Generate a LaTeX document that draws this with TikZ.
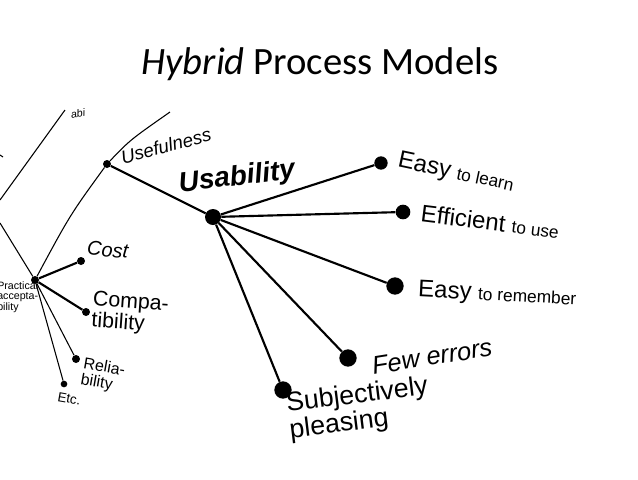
\documentclass[tikz,border=0pt]{standalone}
\usepackage{fontspec}
\setmainfont{Carlito}
\newfontfamily\arial{Liberation Sans}
\newcommand{\fs}[1]{\fontsize{#1}{#1}\selectfont}
\begin{document}
\begin{tikzpicture}[x=0.75pt,y=-0.75pt,
  dot/.style={circle,fill=black,inner sep=0pt,minimum size=#1},
  lbl/.style={inner sep=0pt},
  br/.style={line width=1.6pt},
  thin/.style={line width=0.8pt}]
\useasboundingbox (0,0) rectangle (638,479);
\node[font=\fs{29}] (title) at (320,64) {\textit{Hybrid} Process Models};
% dots
\node[dot=12pt] (u) at (213,217) {};
\node[dot=10pt] (l) at (381,163) {};
\node[dot=11pt] (e) at (403,212) {};
\node[dot=13pt] (r) at (395,286) {};
\node[dot=13pt] (f) at (348,358) {};
\node[dot=13pt] (s) at (283,390) {};
\node[dot=6pt] (uf) at (107,164) {};
\node[dot=6pt] (p) at (35,280) {};
\node[dot=6pt] (c) at (81,261) {};
\node[dot=6pt] (cp) at (86,312) {};
\node[dot=6pt] (rl) at (76,359) {};
\node[dot=5pt] (et) at (64,384) {};
\coordinate (t1) at (170,112);
\coordinate (t2) at (65,110);
\coordinate (l1) at (0,223);
\coordinate (l2) at (0,200);
% branches
\draw[br] (uf) -- (u);
\foreach \n in {l,e,r,f,s} \draw[br] (u) -- (\n);
\draw[thin] (p) .. controls (70,215) .. (uf) .. controls (130,140) .. (t1);
\draw[thin] (l1) -- (p);
\draw[thin] (l2) -- (t2);
\draw[br] (p) -- (c);
\draw[br] (p) -- (cp);
\draw[thin] (p) -- (rl);
\draw[thin] (p) -- (et);
\draw[thin] (0,155) -- (3,157);
% labels
\node[lbl,rotate=10,font=\arial\itshape\fs{8}] (tx0) at (78,114) {abi};
\node[lbl,rotate=15,font=\arial\itshape\fs{14}] (tuf) at (166,146) {Usefulness};
\node[lbl,rotate=7,font=\arial\bfseries\itshape\fs{21}] (tu) at (237,178) {Usability};
\node[lbl,rotate=-12,font=\arial\fs{18},anchor=west] (tl) at (398,161) {Easy \fs{13}to learn};
\node[lbl,rotate=-7,font=\arial\fs{18},anchor=west] (te) at (421,213) {Efficient \fs{13}to use};
\node[lbl,rotate=-3,font=\arial\fs{18},anchor=west] (tr) at (418,291) {Easy \fs{13}to remember};
\node[lbl,rotate=9,font=\arial\itshape\fs{19},anchor=west] (tf) at (372,366) {Few errors};
\node[lbl,rotate=7,font=\arial\fs{20},align=left,anchor=west] (ts) at (288,418) {Subjectively\\pleasing};
\node[lbl,rotate=-5,font=\arial\itshape\fs{15},anchor=west] (tc) at (87,248) {Cost};
\node[lbl,font=\arial\fs{16},align=left,anchor=west,rotate=-4] (tcp) at (92,311) {Compa-\\tibility};
\node[lbl,font=\arial\fs{12},align=left,anchor=west,rotate=-10] (trl) at (82,372) {Relia-\\bility};
\node[lbl,font=\arial\fs{10},anchor=north,rotate=-10] (tet) at (70,394) {Etc.};
\node[lbl,font=\arial\fs{8},align=left,anchor=west] (tp) at (-3,297) {Practical\\accepta-\\bility};
\end{tikzpicture}
\end{document}
